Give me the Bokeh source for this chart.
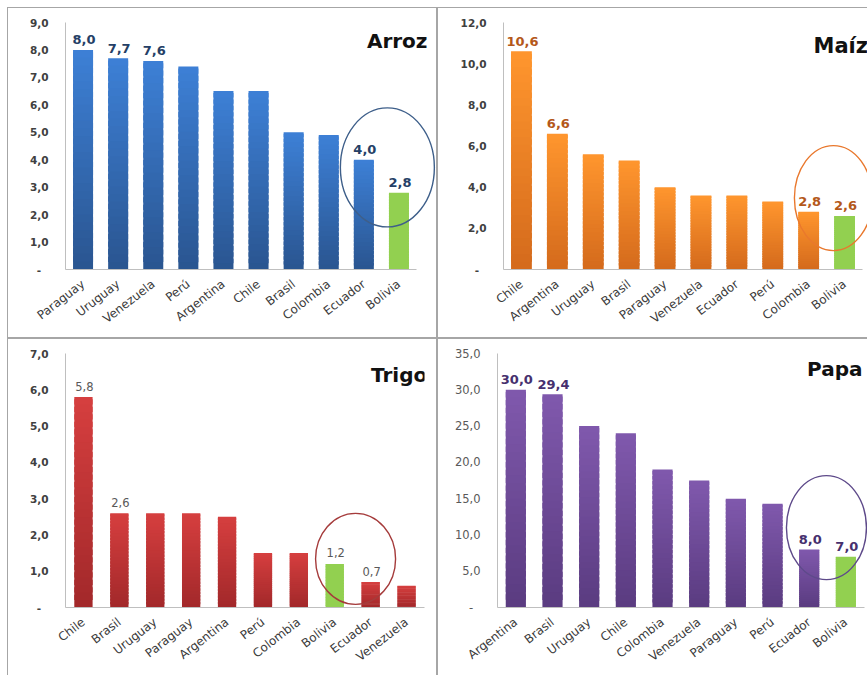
from bokeh.plotting import figure
from bokeh.layouts import row, column
from bokeh.models import Range1d, FixedTicker, Label, Spacer
from bokeh.embed import file_html
from bokeh.resources import INLINE
from bokeh.core.properties import value

# ---------------- data ----------------
arroz_countries = ["Paraguay", "Uruguay", "Venezuela", "Perú", "Argentina",
                   "Chile", "Brasil", "Colombia", "Ecuador", "Bolivia"]
arroz_values = [8.0, 7.7, 7.6, 7.4, 6.5, 6.5, 5.0, 4.9, 4.0, 2.8]
arroz_labels = ["8,0", "7,7", "7,6", "", "", "", "", "", "4,0", "2,8"]
arroz_yticks = [0, 1, 2, 3, 4, 5, 6, 7, 8, 9]
arroz_yticklabels = ["-\u00a0\u00a0", "1,0", "2,0", "3,0", "4,0", "5,0", "6,0", "7,0", "8,0", "9,0"]

maiz_countries = ["Chile", "Argentina", "Uruguay", "Brasil", "Paraguay",
                  "Venezuela", "Ecuador", "Perú", "Colombia", "Bolivia"]
maiz_values = [10.6, 6.6, 5.6, 5.3, 4.0, 3.6, 3.6, 3.3, 2.8, 2.6]
maiz_labels = ["10,6", "6,6", "", "", "", "", "", "", "2,8", "2,6"]
maiz_yticks = [0, 2, 4, 6, 8, 10, 12]
maiz_yticklabels = ["-\u00a0\u00a0", "2,0", "4,0", "6,0", "8,0", "10,0", "12,0"]

trigo_countries = ["Chile", "Brasil", "Uruguay", "Paraguay", "Argentina",
                   "Perú", "Colombia", "Bolivia", "Ecuador", "Venezuela"]
trigo_values = [5.8, 2.6, 2.6, 2.6, 2.5, 1.5, 1.5, 1.2, 0.7, 0.6]
trigo_labels = ["5,8", "2,6", "", "", "", "", "", "1,2", "0,7", ""]
trigo_yticks = [0, 1, 2, 3, 4, 5, 6, 7]
trigo_yticklabels = ["-\u00a0\u00a0", "1,0", "2,0", "3,0", "4,0", "5,0", "6,0", "7,0"]

papa_countries = ["Argentina", "Brasil", "Uruguay", "Chile", "Colombia",
                  "Venezuela", "Paraguay", "Perú", "Ecuador", "Bolivia"]
papa_values = [30.0, 29.4, 25.0, 24.0, 19.0, 17.5, 15.0, 14.3, 8.0, 7.0]
papa_labels = ["30,0", "29,4", "", "", "", "", "", "", "8,0", "7,0"]
papa_yticks = [0, 5, 10, 15, 20, 25, 30, 35]
papa_yticklabels = ["-\u00a0\u00a0", "5,0", "10,0", "15,0", "20,0", "25,0", "30,0", "35,0"]

highlight_country = "Bolivia"

GREEN = "#92d050"
BORDER = "#a6a6a6"
FONT = "DejaVu Sans"


def mix(c1, c2, t):
    a = [int(c1[i:i + 2], 16) for i in (1, 3, 5)]
    b = [int(c2[i:i + 2], 16) for i in (1, 3, 5)]
    return "#%02x%02x%02x" % tuple(round(a[j] + (b[j] - a[j]) * t) for j in range(3))


def panel(title, countries, values, labels, yticks, yticklabels, st):
    W, H = st["size"]
    fl, ft, fr, fb = st["frame"]
    cat = st["cat"]
    n = len(countries)
    x_end = 0.5 + (fr - fl) / cat
    ymax = yticks[-1]

    def px_x(px):
        return 0.5 + (px - fl) / cat

    def px_y(py):
        return ymax * (fb - py) / (fb - ft)

    p = figure(width=W, height=H, output_backend="svg", toolbar_location=None,
               tools="", x_range=Range1d(0.5, x_end), y_range=Range1d(0, ymax),
               min_border_left=fl, min_border_top=ft,
               min_border_right=W - fr, min_border_bottom=H - fb)
    p.border_fill_color = None
    p.background_fill_color = None
    p.outline_line_color = None
    p.xgrid.visible = False
    p.ygrid.visible = False
    p.styles = {"box-shadow": st["shadow"]}

    xs = list(range(1, n + 1))

    # gradient bars: each value drawn as stacked, slightly overlapping slices
    K = 28
    sx, sb, stp, sc = [], [], [], []
    for x, v, c in zip(xs, values, countries):
        for k in range(K):
            sx.append(x)
            sb.append(v * k / K)
            stp.append(v * min(k + 1.7, K) / K)
            if c == highlight_country:
                sc.append(GREEN)
            else:
                sc.append(mix(st["bottom"], st["top"], (k + 0.5) / K))
    p.vbar(x=sx, bottom=sb, top=stp, width=st["bw"], fill_color=sc,
           line_color=None)

    # data labels
    p.text(x=xs, y=values, text=labels, text_align="center",
           text_baseline="alphabetic", x_offset=1, y_offset=st["lab_off"],
           text_font=value(FONT), text_font_style=st["lab_style"],
           text_font_size=st["lab_size"], text_color=st["lab_color"])

    # highlight ellipse
    ex, ey, ew, eh = st["ellipse"]
    p.ellipse(x=[ex], y=[ey], width=ew, height=eh, width_units="screen",
              height_units="screen", fill_color=None, line_color=st["ell_color"],
              line_width=1.4)

    # panel title
    tx, ty, talign, tsize = st["title"]
    p.add_layout(Label(x=px_x(tx), y=px_y(ty), text=title, text_align=talign,
                       text_baseline="alphabetic", text_font=FONT,
                       text_font_style="bold", text_font_size=tsize,
                       text_color="#111111"))

    # axes
    p.xaxis.ticker = FixedTicker(ticks=xs)
    p.xaxis.major_label_overrides = {x: c for x, c in zip(xs, countries)}
    p.xaxis.bounds = (0.5, n + 0.5)
    p.xaxis.major_label_orientation = 0.66
    p.xaxis.major_label_standoff = 13
    p.xaxis.major_label_text_font = FONT
    p.xaxis.major_label_text_font_size = "12px"
    p.xaxis.major_label_text_color = "#3a3a3a"

    p.yaxis.ticker = FixedTicker(ticks=yticks)
    p.yaxis.major_label_overrides = dict(zip(yticks, yticklabels))
    p.yaxis.major_label_standoff = 17
    p.yaxis.major_label_text_font = FONT
    p.yaxis.major_label_text_font_size = st["ytick_size"]
    p.yaxis.major_label_text_font_style = st["ytick_style"]
    p.yaxis.major_label_text_color = st["ytick_color"]

    for ax in (p.xaxis[0], p.yaxis[0]):
        ax.axis_line_color = "#bfbfbf"
        ax.axis_line_width = 1
        ax.major_tick_line_color = None
        ax.minor_tick_line_color = None
        ax.major_tick_out = 0
        ax.major_tick_in = 0
    return p


sh_tl = f"inset 1px 1px 0 {BORDER}, inset -1px -1px 0 {BORDER}"
sh_tr = f"inset 1px 1px 0 {BORDER}, inset 0 -1px 0 {BORDER}"
sh_bl = f"inset 1px 1px 0 {BORDER}, inset -1px 0 0 {BORDER}"
sh_br = f"inset 1px 1px 0 {BORDER}"

p1 = panel("Arroz", arroz_countries, arroz_values, arroz_labels, arroz_yticks,
           arroz_yticklabels,
           dict(size=(430, 331), frame=(58, 15, 429, 262), cat=35.1, bw=0.57,
                top="#3d80d6", bottom="#2a5590", lab_color="#253f66",
                lab_style="bold", lab_size="13px", lab_off=-10,
                ellipse=(9.67, 3.72, 94, 119), ell_color="#3e5f8a",
                title=(420, 33.7, "right", "20px"), ytick_size="10.5px",
                ytick_style="bold", ytick_color="#404040", shadow=sh_tl))

p2 = panel("Maíz", maiz_countries, maiz_values, maiz_labels, maiz_yticks,
           maiz_yticklabels,
           dict(size=(430, 331), frame=(66, 8, 430, 262), cat=35.9, bw=0.58,
                top="#ff962e", bottom="#d46a1c", lab_color="#b4581a",
                lab_style="bold", lab_size="13px", lab_off=-10,
                ellipse=(9.69, 3.47, 78, 105), ell_color="#e9782d",
                title=(376, 32.3, "left", "21px"), ytick_size="10.5px",
                ytick_style="bold", ytick_color="#404040", shadow=sh_tr))

p3 = panel("Trigo", trigo_countries, trigo_values, trigo_labels, trigo_yticks,
           trigo_yticklabels,
           dict(size=(430, 337), frame=(58, 11, 417, 269), cat=35.9, bw=0.51,
                top="#d63f3f", bottom="#a2282a", lab_color="#595959",
                lab_style="normal", lab_size="11.5px", lab_off=-11,
                ellipse=(8.58, 1.34, 80, 91), ell_color="#a53b3b",
                title=(419.7, 33, "right", "20px"), ytick_size="10.5px",
                ytick_style="bold", ytick_color="#404040", shadow=sh_bl))

p4 = panel("Papa", papa_countries, papa_values, papa_labels, papa_yticks,
           papa_yticklabels,
           dict(size=(430, 337), frame=(60, 15, 430, 279), cat=36.67, bw=0.55,
                top="#8059ad", bottom="#5a3b80", lab_color="#46306e",
                lab_style="bold", lab_size="13px", lab_off=-10,
                ellipse=(9.47, 11.0, 80, 104), ell_color="#5e4a8a",
                title=(425, 31, "right", "20px"), ytick_size="11.5px",
                ytick_style="normal", ytick_color="#595959", shadow=sh_br))

layout = column(Spacer(width=867, height=7),
                row(Spacer(width=7, height=331), p1, p2),
                row(Spacer(width=7, height=337), p3, p4))

open("out.html", "w").write(file_html(layout, INLINE))
